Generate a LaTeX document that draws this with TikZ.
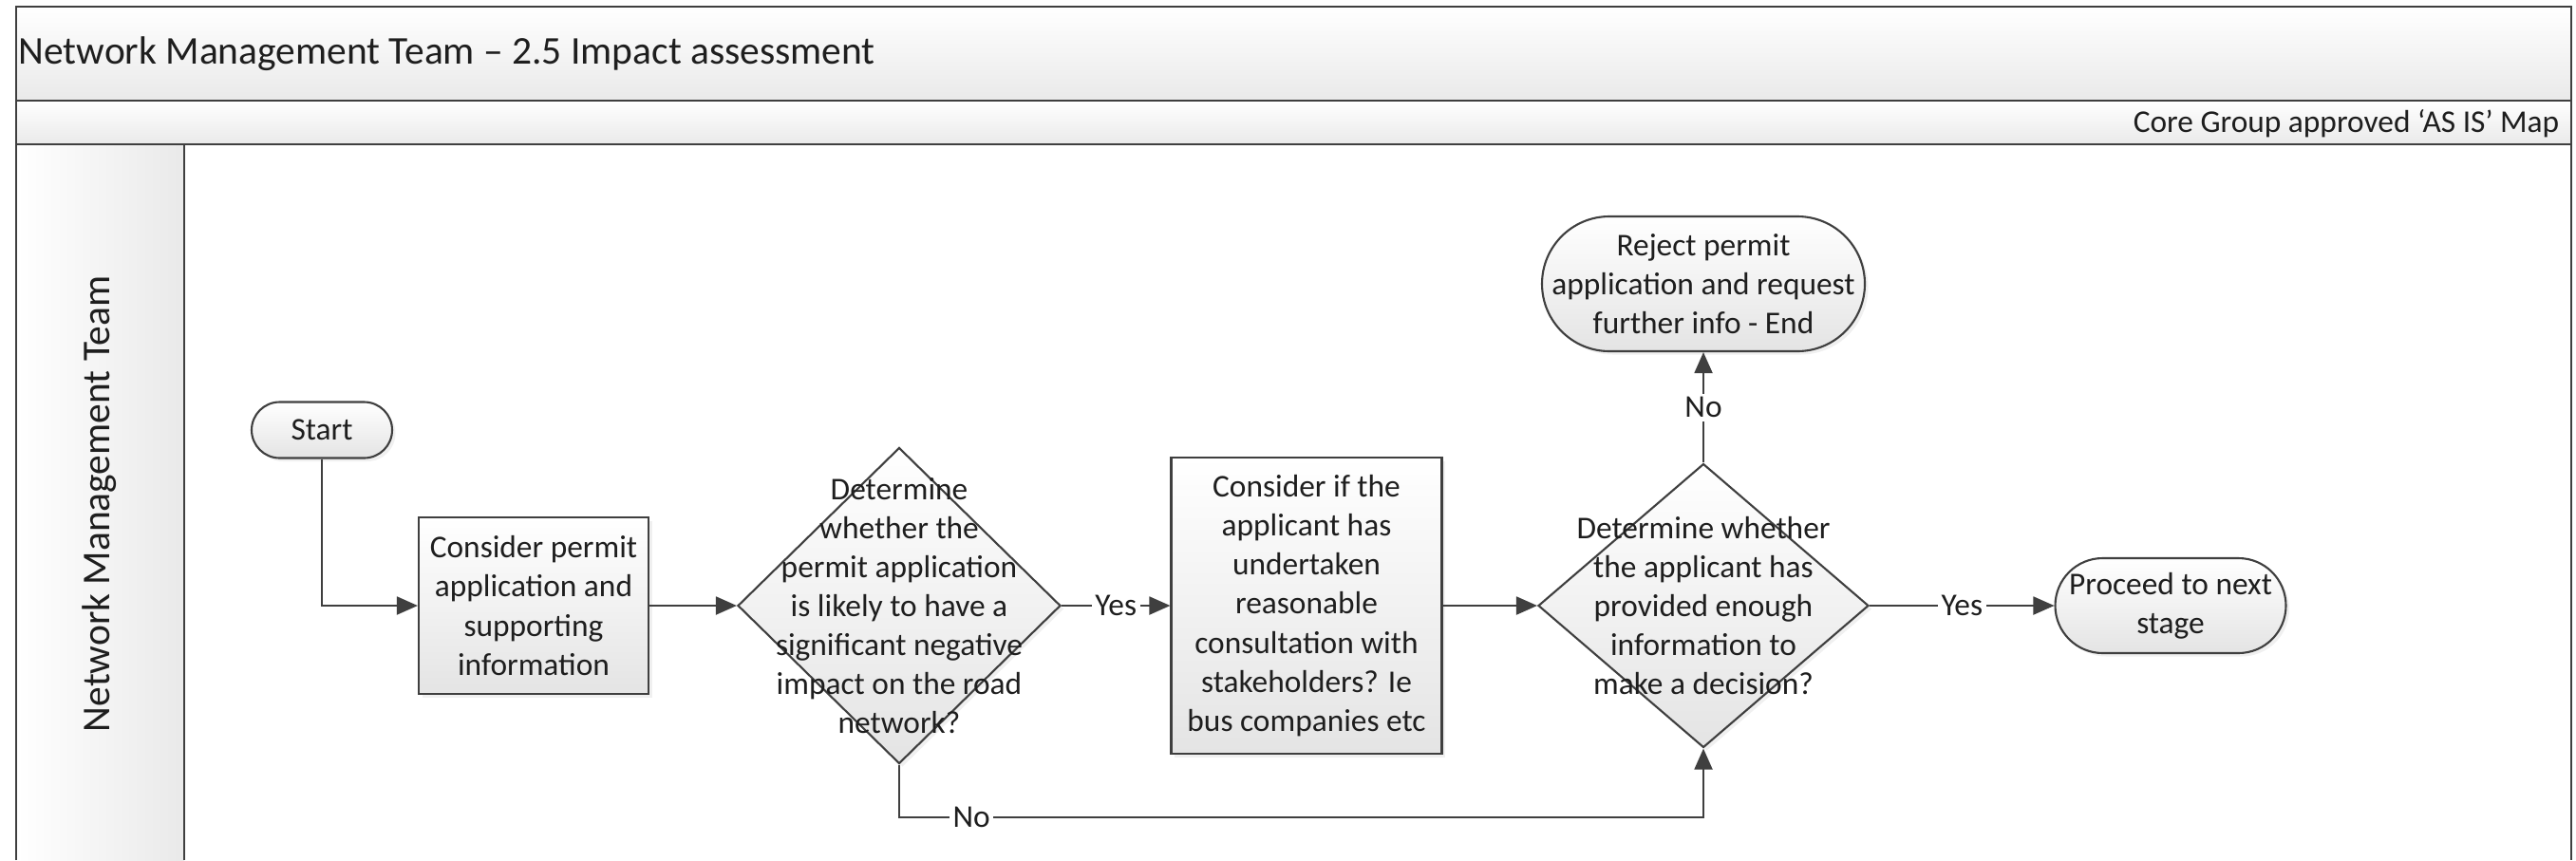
\documentclass[tikz,border=0pt]{standalone}
\usepackage{fontspec}
\setmainfont{Carlito}
\usepackage{xcolor}
\usetikzlibrary{arrows.meta,shapes.geometric,shapes.misc,shadows,positioning}

\definecolor{linegray}{HTML}{3F3F3F}
\definecolor{inkgray}{HTML}{1E1E1E}
\definecolor{fillgray}{HTML}{E4E4E4}

\newcommand{\bigfont}{\fontsize{11.8pt}{14pt}\selectfont}

\begin{document}
\begin{tikzpicture}[>={Triangle[length=0.22cm,width=0.19cm]},
  font=\fontsize{9.5pt}{11.7pt}\selectfont, text=inkgray,
  band/.style={top color=white,bottom color=fillgray!80},
  shaded/.style={draw=linegray,line width=0.6pt,top color=white,bottom color=fillgray,
    drop shadow={opacity=0.12,shadow xshift=0.035cm,shadow yshift=-0.035cm}},
  process/.style={shaded,rectangle,inner sep=0pt,align=center},
  terminal/.style={shaded,rounded rectangle,inner sep=0pt},
  decision/.style={shaded,diamond,inner sep=0pt},
  caption/.style={align=center,inner sep=0pt},
  flow/.style={->,draw=linegray,line width=0.55pt},
  answer/.style={fill=white,inner sep=1pt}]
  \useasboundingbox (0,0) rectangle (27.13,-9.06);

  % swimlane frame
  \shade[band] (0.17,-0.07) rectangle (27.08,-1.06);
  \shade[band] (0.17,-1.06) rectangle (27.08,-1.52);
  \shade[left color=white,right color=fillgray!80] (0.17,-1.52) rectangle (1.94,-9.06);
  \draw[linegray,line width=0.8pt] (0.17,-9.06) -- (0.17,-0.07) -- (27.08,-0.07) -- (27.08,-9.06);
  \draw[linegray,line width=0.7pt] (0.17,-1.06) -- (27.08,-1.06) (0.17,-1.52) -- (27.08,-1.52)
    (1.94,-1.52) -- (1.94,-9.06);

  \node[anchor=west,inner sep=0pt,font=\bigfont] (title) at (0.19,-0.57) {Network Management Team – 2.5 Impact assessment};
  \node[anchor=east,inner sep=0pt] (status) at (26.96,-1.30) {Core Group approved ‘AS IS’ Map};
  \node[rotate=90,inner sep=0pt,font=\bigfont] (lane) at (1.05,-5.31) {Network Management Team};

  % process steps
  \node[terminal,minimum width=1.48cm,minimum height=0.59cm] (start) at (3.39,-4.53) {};
  \node[caption] (start-txt) at (start) {Start};
  \node[process,minimum width=2.42cm,minimum height=1.86cm] (consider) at (5.62,-6.38)
    {Consider permit\\application and\\supporting\\information};
  \node[decision,minimum width=3.40cm,minimum height=3.33cm] (impact) at (9.47,-6.38) {};
  \node[caption] (impact-txt) at (impact) {Determine\\whether the\\permit application\\is likely to have a\\significant negative\\impact on the road\\network?};
  \node[process,minimum width=2.85cm,minimum height=3.12cm] (consult) at (13.76,-6.38)
    {Consider if the\\applicant has\\undertaken\\reasonable\\consultation with\\stakeholders? Ie\\bus companies etc};
  \node[decision,minimum width=3.48cm,minimum height=2.99cm] (enough) at (17.94,-6.38) {};
  \node[caption] (enough-txt) at (enough) {Determine whether\\the applicant has\\provided enough\\information to\\make a decision?};
  \node[terminal,minimum width=3.40cm,minimum height=1.42cm] (reject) at (17.94,-2.99) {};
  \node[caption] (reject-txt) at (reject) {Reject permit\\application and request\\further info - End};
  \node[terminal,minimum width=2.43cm,minimum height=1.00cm] (proceed) at (22.86,-6.38) {};
  \node[caption] (proceed-txt) at (proceed) {Proceed to next\\stage};

  % connectors
  \draw[flow] (start.south) |- (consider.west);
  \draw[flow] (consider.east) -- (impact.west);
  \draw[flow] (impact.east) -- node[answer] {Yes} (consult.west);
  \draw[flow] (consult.east) -- (enough.west);
  \draw[flow] (enough.east) -- node[answer] {Yes} (proceed.west);
  \draw[flow] (enough.north) -- node[answer] {No} (reject.south);
  \coordinate (loop) at (9.47,-8.61);
  \draw[flow] (impact.south) -- (loop) -- node[answer,pos=0.09] {No} (loop -| enough.south) -- (enough.south);
\end{tikzpicture}
\end{document}
